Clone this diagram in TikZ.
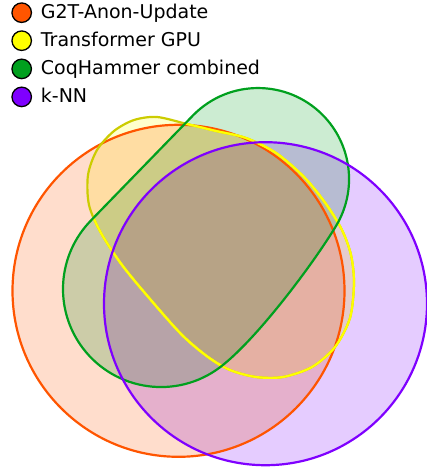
\documentclass[tikz,border=0pt]{standalone}
\usepackage{fontspec}
\setmainfont{DejaVu Sans}
\usepackage{xcolor}
\usepackage{tikz}
\usetikzlibrary{calc}

\definecolor{gtwot}{RGB}{255,85,0}
\definecolor{tgpu}{RGB}{255,255,0}
\definecolor{tgpudark}{RGB}{204,204,0}
\definecolor{coqh}{RGB}{0,160,30}
\definecolor{knn}{RGB}{127,0,255}

\newcommand{\tgpushape}{plot[smooth cycle] coordinates {(157,117) (187,124) (216,131) (246,138) (276,153) (304,177) (326,204) (342,230) (351,255) (354,283) (350,318) (335,347) (312,367) (283,377) (256,377) (230,370) (208,357) (182,335) (150,299) (122,265) (101,233) (89,205) (88,175) (97,150) (114,131) (134,120)}}
\newcommand{\coqshape}{(91.7,219.7) -- (193.7,114.7) arc[start angle=225, end angle=391, radius=91] .. controls (312.8,264.5) and (256,340.1) .. (220.1,367.2) arc[start angle=52.9, end angle=225, radius=98] -- cycle}

\begin{document}
\begin{tikzpicture}[x=1pt, y=-1pt,
    setline/.style={line width=2.2pt},
    legdot/.style={circle, draw=black, line width=1.3pt, minimum size=19.5pt, inner sep=0pt},
    legtext/.style={anchor=base west, inner sep=0pt, font=\fontsize{19}{22}\selectfont}]
    \useasboundingbox (0,0) rectangle (427,470);
    % Fills
    \begin{scope}[blend mode=multiply]
        \fill[gtwot!20] (178.5,290.8) circle[radius=166];
        \fill[tgpu!20] \tgpushape;
        \fill[coqh!20] \coqshape;
        \fill[knn!20] (265.5,303.7) circle[radius=161.5];
    \end{scope}
    % Outlines
    \draw[setline, gtwot] (178.5,290.8) circle[radius=166];
    \draw[setline, tgpudark] \tgpushape;
    \begin{scope}
        \clip \coqshape;
        \draw[setline, tgpu] \tgpushape;
    \end{scope}
    \begin{scope}
        \clip (265.5,303.7) circle[radius=161.5];
        \draw[setline, tgpu] \tgpushape;
    \end{scope}
    \draw[setline, coqh] \coqshape;
    \draw[setline, knn] (265.5,303.7) circle[radius=161.5];
    % Legend
    \node[legdot, fill=gtwot] (g2tdot) at (21.7,12.7) {};
    \node[legdot, fill=tgpu] (tgpudot) at (21.7,40.7) {};
    \node[legdot, fill=coqh] (coqdot) at (21.7,68.9) {};
    \node[legdot, fill=knn] (knndot) at (21.7,96.9) {};
    \node[legtext] (g2tlabel) at (40.7,18.7) {G2T-Anon-Update};
    \node[legtext] (tgpulabel) at (40.7,46.7) {Transformer GPU};
    \node[legtext] (coqlabel) at (40.7,74.9) {CoqHammer combined};
    \node[legtext] (knnlabel) at (40.7,102.9) {k-NN};
\end{tikzpicture}
\end{document}
